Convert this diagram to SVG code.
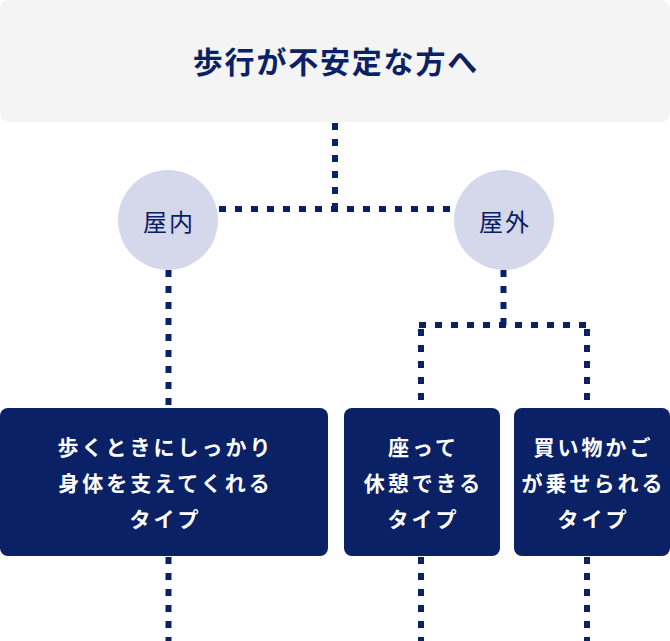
<svg xmlns="http://www.w3.org/2000/svg" width="670" height="641" viewBox="0 0 670 641">
<style>
.dot{fill:none;stroke:#0b2166;stroke-width:6;stroke-dasharray:7 9}
.title{font-family:"Noto Sans CJK JP","Noto Sans",sans-serif;font-weight:700;font-size:30px;fill:#0b2166;letter-spacing:1.8px}
.circ{fill:#d4d8ea}
.ctext{font-family:"Noto Sans CJK JP","Noto Sans",sans-serif;font-weight:400;font-size:24px;fill:#0b2166;letter-spacing:2px}
.box{fill:#0b2166}
.btext{font-family:"Noto Sans CJK JP","Noto Sans",sans-serif;font-weight:700;font-size:21px;fill:#ffffff;letter-spacing:3px}
text{text-anchor:middle;dominant-baseline:central}
</style>
<g id="connectors">
<path class="dot" d="M335 123 V209"/>
<path class="dot" d="M219 209 H454"/>
<path class="dot" d="M168.5 270 V408"/>
<path class="dot" d="M168.5 557 V641"/>
<path class="dot" d="M503.5 270 V325"/>
<path class="dot" d="M419 325 H590"/>
<path class="dot" d="M421 329 V408"/>
<path class="dot" d="M587 329 V408"/>
<path class="dot" d="M421 557 V641"/>
<path class="dot" d="M587 557 V641"/>
</g>
<g id="top">
<rect x="0" y="0" width="670" height="122" rx="9" fill="#f4f4f4"/>
<text class="title" x="335.9" y="60">歩行が不安定な方へ</text>
</g>
<g id="indoor">
<circle class="circ" cx="168" cy="220" r="50"/>
<text class="ctext" x="169" y="220">屋内</text>
</g>
<g id="outdoor">
<circle class="circ" cx="504" cy="220" r="50"/>
<text class="ctext" x="505" y="220">屋外</text>
</g>
<g id="box1">
<rect class="box" x="0" y="408" width="328" height="148" rx="8"/>
<text class="btext" x="165.5" y="446">歩くときにしっかり</text>
<text class="btext" x="165.5" y="482">身体を支えてくれる</text>
<text class="btext" x="165.5" y="518">タイプ</text>
</g>
<g id="box2">
<rect class="box" x="344" y="408" width="156" height="148" rx="8"/>
<text class="btext" x="423.5" y="446">座って</text>
<text class="btext" x="423.5" y="482">休憩できる</text>
<text class="btext" x="423.5" y="518">タイプ</text>
</g>
<g id="box3">
<rect class="box" x="514" y="408" width="156" height="148" rx="8"/>
<text class="btext" x="593.5" y="446">買い物かご</text>
<text class="btext" x="593.5" y="482">が乗せられる</text>
<text class="btext" x="593.5" y="518">タイプ</text>
</g>
</svg>
